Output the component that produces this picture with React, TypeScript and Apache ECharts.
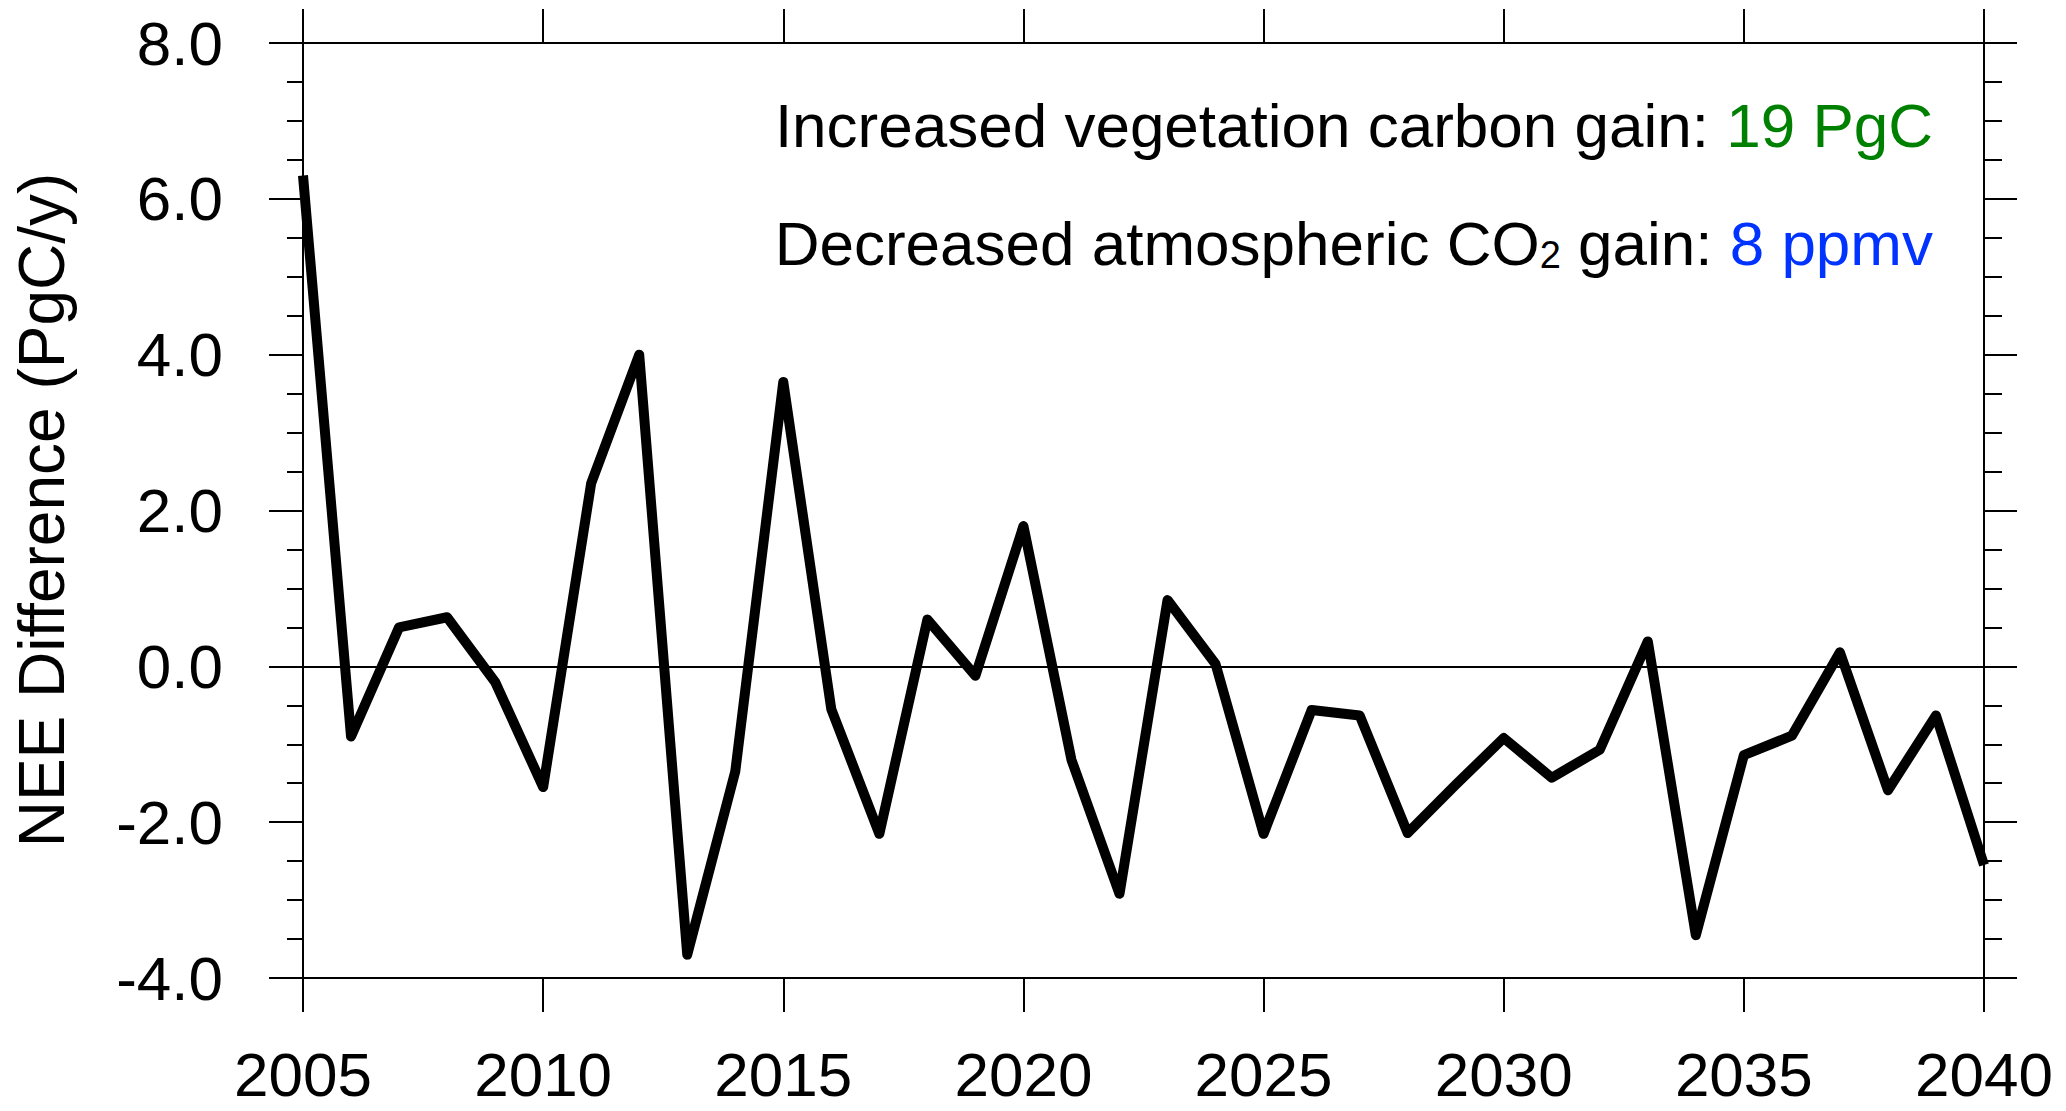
import React, { useEffect, useRef } from "react";
import * as echarts from "echarts";

// Annual NEE difference, 2005–2040
const years: number[] = [
  2005, 2006, 2007, 2008, 2009, 2010, 2011, 2012, 2013, 2014, 2015, 2016,
  2017, 2018, 2019, 2020, 2021, 2022, 2023, 2024, 2025, 2026, 2027, 2028,
  2029, 2030, 2031, 2032, 2033, 2034, 2035, 2036, 2037, 2038, 2039, 2040,
];
const neeDifference: number[] = [
  6.3, -0.9, 0.5, 0.63, -0.2, -1.55, 2.35, 4.0, -3.7, -1.35, 3.65, -0.55,
  -2.15, 0.6, -0.12, 1.8, -1.2, -2.92, 0.85, 0.03, -2.15, -0.56, -0.63, -2.14,
  -1.52, -0.92, -1.43, -1.07, 0.32, -3.45, -1.14, -0.89, 0.18, -1.59, -0.63, -2.55,
];

const xRange = { min: 2005, max: 2040, interval: 5 };
const yRange = { min: -4, max: 8, interval: 2 };

const yTitle = "NEE Difference (PgC/y)";
const vegLabel = "Increased vegetation carbon gain: ";
const vegValue = "19 PgC";
const co2LabelA = "Decreased atmospheric CO";
const co2Sub = "2";
const co2LabelB = " gain: ";
const co2Value = "8 ppmv";

const FONT = "'Liberation Sans', Arial, Helvetica, sans-serif";

export default function App() {
  const ref = useRef<HTMLDivElement | null>(null);

  useEffect(() => {
    if (!ref.current) return;
    const chart = echarts.init(ref.current, undefined, { renderer: "svg" });

    const axisLine = { show: true, onZero: false, lineStyle: { color: "#000", width: 2 } };
    const tickStyle = { color: "#000", width: 2 };

    chart.setOption({
      animation: false,
      backgroundColor: "#fff",
      grid: { left: 303, right: 82, top: 43, bottom: 133, containLabel: false },
      xAxis: [
        {
          type: "value",
          position: "bottom",
          min: xRange.min,
          max: xRange.max,
          interval: xRange.interval,
          axisLine,
          axisTick: { show: true, inside: false, length: 34, lineStyle: tickStyle },
          axisLabel: {
            show: true,
            margin: 68,
            color: "#000",
            fontSize: 62,
            lineHeight: 56,
            fontFamily: FONT,
            formatter: (v: number) => String(v),
          },
          splitLine: { show: false },
        },
        {
          type: "value",
          position: "top",
          min: xRange.min,
          max: xRange.max,
          interval: xRange.interval,
          axisLine,
          axisTick: { show: true, inside: false, length: 34, lineStyle: tickStyle },
          axisLabel: { show: false },
          splitLine: { show: false },
        },
      ],
      yAxis: [
        {
          type: "value",
          position: "left",
          min: yRange.min,
          max: yRange.max,
          interval: yRange.interval,
          axisLine,
          axisTick: { show: true, inside: false, length: 34, lineStyle: tickStyle },
          minorTick: { show: true, splitNumber: 4, length: 16, lineStyle: tickStyle },
          axisLabel: {
            show: true,
            margin: 80,
            color: "#000",
            fontSize: 62,
            fontFamily: FONT,
            formatter: (v: number) => v.toFixed(1),
          },
          splitLine: { show: false },
        },
        {
          type: "value",
          position: "right",
          min: yRange.min,
          max: yRange.max,
          interval: yRange.interval,
          axisLine,
          axisTick: { show: true, inside: false, length: 33, lineStyle: tickStyle },
          minorTick: { show: true, splitNumber: 4, length: 18, lineStyle: tickStyle },
          axisLabel: { show: false },
          splitLine: { show: false },
        },
      ],
      series: [
        {
          type: "line",
          xAxisIndex: 0,
          yAxisIndex: 0,
          data: years.map((y, i) => [y, neeDifference[i]]),
          showSymbol: false,
          symbol: "none",
          clip: false,
          lineStyle: { color: "#000", width: 10, join: "round", cap: "butt" },
          markLine: {
            silent: true,
            symbol: ["none", "none"],
            label: { show: false },
            lineStyle: { color: "#000", width: 2, type: "solid" },
            data: [{ yAxis: 0 }],
          },
          z: 3,
        },
      ],
      graphic: [
        {
          type: "text",
          x: 42,
          y: 510,
          rotation: Math.PI / 2,
          style: {
            text: yTitle,
            fill: "#000",
            font: `64px ${FONT}`,
            align: "center",
            verticalAlign: "middle",
          },
        },
        {
          type: "text",
          x: 1933,
          y: 125,
          style: {
            text: `{k|${vegLabel}}{g|${vegValue}}`,
            align: "right",
            verticalAlign: "middle",
            rich: {
              k: { fill: "#000", fontSize: 62, fontFamily: FONT, lineHeight: 62 },
              g: { fill: "#008000", fontSize: 62, fontFamily: FONT, lineHeight: 62 },
            },
          },
        },
        {
          type: "text",
          x: 1933,
          y: 243,
          style: {
            text: `{k|${co2LabelA}}{s|${co2Sub}}{k|${co2LabelB}}{b|${co2Value}}`,
            align: "right",
            verticalAlign: "middle",
            rich: {
              k: { fill: "#000", fontSize: 62, fontFamily: FONT, lineHeight: 62 },
              s: {
                fill: "#000",
                fontSize: 38,
                fontFamily: FONT,
                lineHeight: 33,
                verticalAlign: "bottom",
              },
              b: { fill: "#0033ff", fontSize: 62, fontFamily: FONT, lineHeight: 62 },
            },
          },
        },
      ],
    });

    return () => {
      chart.dispose();
    };
  }, []);

  return (
    <div
      ref={ref}
      style={{ position: "fixed", left: 0, top: 0, width: 2066, height: 1111 }}
    />
  );
}
